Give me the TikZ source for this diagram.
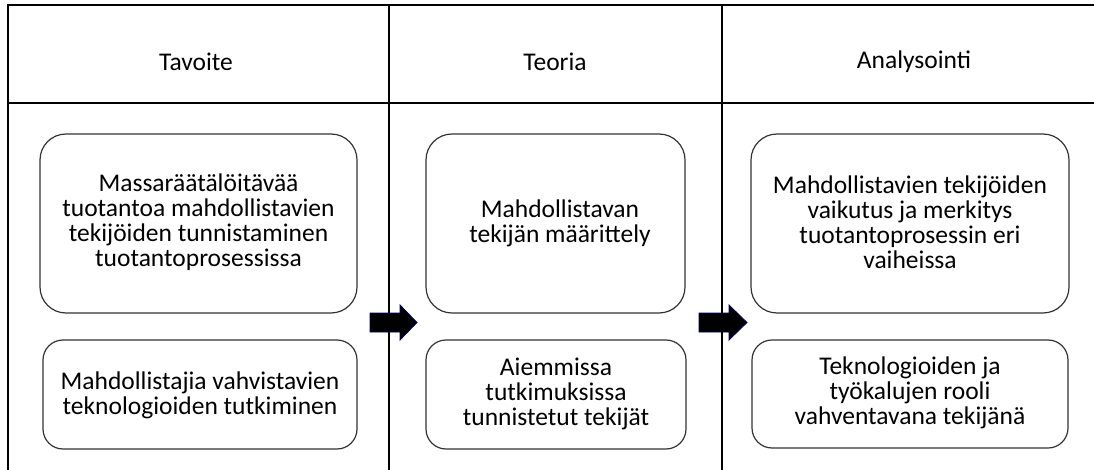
\documentclass[tikz,border=0pt]{standalone}
\usepackage{fontspec}
\setmainfont{Carlito}
\begin{document}
\begin{tikzpicture}[x=1pt,y=-1pt,
  grid/.style={line width=1.3pt,black},
  card/.style={draw=black!80,line width=1.2pt,rounded corners=26pt},
  smallcard/.style={draw=black!80,line width=1.2pt,rounded corners=20pt},
  txt/.style={align=center,font=\fontsize{25.5}{25}\selectfont,text=black},
  head/.style={font=\fontsize{25.5}{25}\selectfont,text=black},
  blockarrow/.style={fill=black,draw=blue!40!black,line width=0.8pt,line join=miter}]
\useasboundingbox (0,0) rectangle (1094,470);

% table frame
\coordinate (tl) at (8,5);
\coordinate (tr) at (1094,5);
\coordinate (hl) at (8,103);
\coordinate (hr) at (1094,103);
\coordinate (bl) at (8,470);
\coordinate (c1t) at (389,5);
\coordinate (c1b) at (389,470);
\coordinate (c2t) at (722,5);
\coordinate (c2b) at (722,470);
\draw[grid] (tr) -- (tl) -- (bl);
\draw[grid] (hl) -- (hr);
\draw[grid] (c1t) -- (c1b);
\draw[grid] (c2t) -- (c2b);

% column headings
\node[head] (h1) at (196,62) {Tavoite};
\node[head] (h2) at (555,62) {Teoria};
\node[head] (h3) at (914,62) {Analysointi};

% rounded cards
\draw[card] (40,134) rectangle (357,313);
\draw[smallcard] (43,340) rectangle (357,449);
\draw[card] (426,134) rectangle (685,313);
\draw[smallcard] (426,340) rectangle (686,449);
\draw[card] (751,134) rectangle (1069,313);
\draw[smallcard] (752,340) rectangle (1068,448);

\node[txt] (a1) at (198.5,222) {Massaräätälöitävää\\tuotantoa mahdollistavien\\tekijöiden tunnistaminen\\tuotantoprosessissa};
\node[txt] (a2) at (200,395) {Mahdollistajia vahvistavien\\teknologioiden tutkiminen};
\node[txt] (b1) at (560,223) {Mahdollistavan\\tekijän määrittely};
\node[txt] (b2) at (556,394) {Aiemmissa\\tutkimuksissa\\tunnistetut tekijät};
\node[txt] (c1) at (910,222) {Mahdollistavien tekijöiden\\vaikutus ja merkitys\\tuotantoprosessin eri\\vaiheissa};
\node[txt] (c2) at (910,393) {Teknologioiden ja\\työkalujen rooli\\vahventavana tekijänä};

% block arrows between the columns
\draw[blockarrow] (370,313) -- (400,313) -- (400,305) -- (417,322.5) -- (400,340) -- (400,332) -- (370,332) -- cycle;
\draw[blockarrow] (699,313) -- (729,313) -- (729,305) -- (747,322.5) -- (729,340) -- (729,332) -- (699,332) -- cycle;
\end{tikzpicture}
\end{document}
